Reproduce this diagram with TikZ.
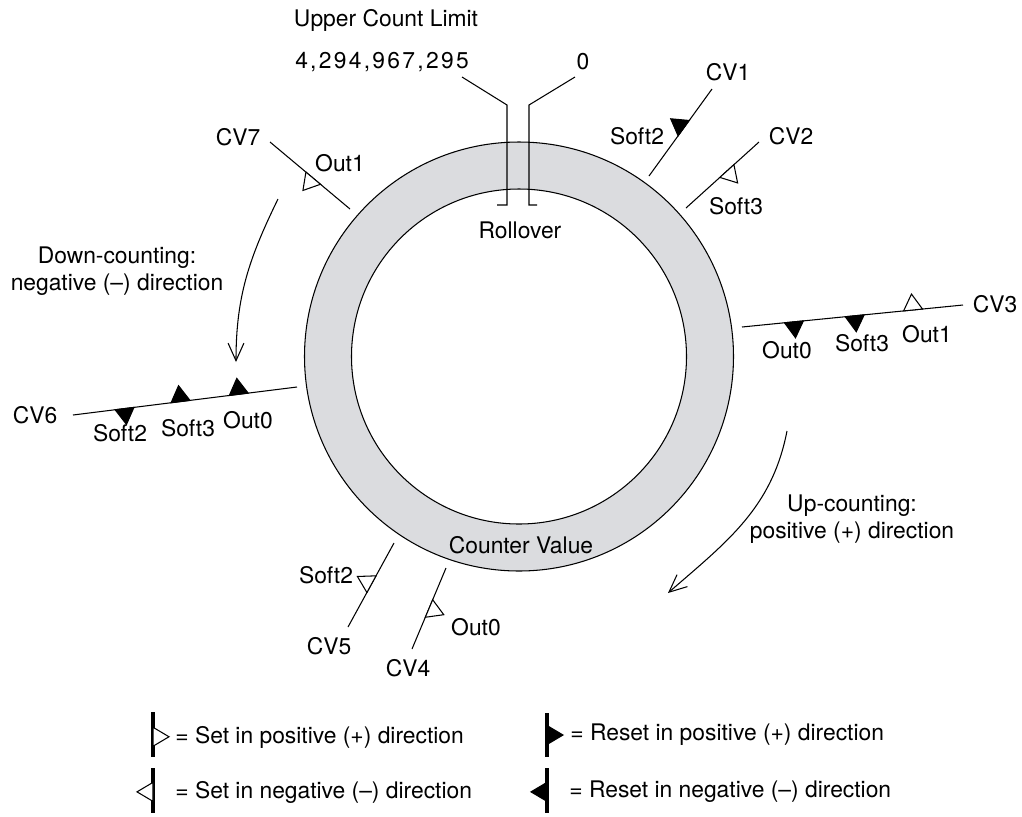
\documentclass[tikz,border=0pt]{standalone}
\usepackage{fontspec}
\setmainfont{TeX Gyre Heros}
\usetikzlibrary{positioning, calc, arrows.meta}
\definecolor{ringgray}{RGB}{219,220,223}

\tikzset{
    lbl/.style={font=\fontsize{13}{15}\selectfont, inner sep=0pt},
    thin line/.style={line width=0.6pt},
    legend bar/.style={line width=1.8pt},
    pics/tri/.style 2 args={code={\draw[line width=0.6pt, line join=miter, #2] (-0.19cm,0) -- (0,#1) -- (0.19cm,0) -- cycle;}},
    onpath/.style={pos=#1, sloped, allow upside down}
}

\begin{document}
\begin{tikzpicture}[x=0.02cm, y=-0.02cm]
    \useasboundingbox (0,0) rectangle (1022,816);

    % Ring of counter values
    \coordinate (c) at (519,356.5);
    \fill[ringgray, even odd rule] (c) circle[radius=214.5] (c) circle[radius=167.5];
    \draw[thin line] (c) circle[radius=214.5];
    \draw[thin line] (c) circle[radius=167.5];
    \node[lbl] (cval) at (521,545) {Counter Value};

    % Rollover point with its two limits
    \node[lbl] (ulim) at (386,20) {Upper Count Limit};
    \node[lbl] (maxv) at (382,62) {\addfontfeature{LetterSpace=10}4,294,967,295};
    \node[lbl] (zero) at (583,62) {0};
    \node[lbl] (roll) at (520,230) {Rollover};
    \coordinate (maxa) at (462,77);
    \coordinate (zeroa) at (575,77);
    \draw[thin line] (maxa) -- (507,105) -- (507,205) -- (497,205);
    \draw[thin line] (zeroa) -- (529,105) -- (529,205) -- (537,205);

    % CV1
    \coordinate (cv1a) at (649,176);
    \coordinate (cv1b) at (712,89);
    \node[lbl] (cv1) at (728,72) {CV1};
    \node[lbl] (cv1s2) at (637,136) {Soft2};
    \draw[thin line] (cv1a) -- (cv1b) pic[onpath=.55]{tri={0.32cm}{fill=black}};

    % CV2
    \coordinate (cv2a) at (686,208);
    \coordinate (cv2b) at (759,142);
    \node[lbl] (cv2) at (791,136) {CV2};
    \node[lbl] (cv2s3) at (736,206) {Soft3};
    \draw[thin line] (cv2a) -- (cv2b) pic[onpath=.56]{tri={-0.32cm}{fill=white}};

    % CV3
    \coordinate (cv3a) at (742,327);
    \coordinate (cv3b) at (963,305);
    \node[lbl] (cv3) at (995,304) {CV3};
    \node[lbl] (cv3o0) at (787,350) {Out0};
    \node[lbl] (cv3s3) at (862,343) {Soft3};
    \node[lbl] (cv3o1) at (927,334) {Out1};
    \draw[thin line] (cv3a) -- (cv3b)
        pic[onpath=.235]{tri={-0.32cm}{fill=black}}
        pic[onpath=.51]{tri={-0.32cm}{fill=black}}
        pic[onpath=.774]{tri={0.32cm}{fill=white}};

    % CV4
    \coordinate (cv4a) at (446,568);
    \coordinate (cv4b) at (412,649);
    \node[lbl] (cv4) at (408,668) {CV4};
    \node[lbl] (cv4o0) at (476,627) {Out0};
    \draw[thin line] (cv4a) -- (cv4b) pic[onpath=.5]{tri={0.32cm}{fill=white}};

    % CV5
    \coordinate (cv5a) at (394,543);
    \coordinate (cv5b) at (348,627);
    \node[lbl] (cv5) at (329,646) {CV5};
    \node[lbl] (cv5s2) at (326,575) {Soft2};
    \draw[thin line] (cv5a) -- (cv5b) pic[onpath=.49]{tri={-0.32cm}{fill=white}};

    % CV6
    \coordinate (cv6a) at (297,387);
    \coordinate (cv6b) at (73,415);
    \node[lbl] (cv6) at (35,415) {CV6};
    \node[lbl] (cv6s2) at (120,433) {Soft2};
    \node[lbl] (cv6s3) at (188,428) {Soft3};
    \node[lbl] (cv6o0) at (248,420) {Out0};
    \draw[thin line] (cv6a) -- (cv6b)
        pic[onpath=.26]{tri={-0.32cm}{fill=black}}
        pic[onpath=.52]{tri={-0.32cm}{fill=black}}
        pic[onpath=.77]{tri={0.32cm}{fill=black}};

    % CV7
    \coordinate (cv7a) at (350,209);
    \coordinate (cv7b) at (270,142);
    \node[lbl] (cv7) at (238,137) {CV7};
    \node[lbl] (cv7o1) at (340,163) {Out1};
    \draw[thin line] (cv7a) -- (cv7b) pic[onpath=.46]{tri={0.32cm}{fill=white}};

    % Counting directions
    \node[lbl, align=center] (down) at (117,271) {Down-counting:\\negative (--) direction};
    \coordinate (dna) at (278,199);
    \coordinate (dnb) at (236,362);
    \draw[thin line, -{Straight Barb[length=10pt, width=9pt]}] (dna) to[out=-116, in=90] (dnb);
    \node[lbl, align=center] (up) at (852,519) {Up-counting:\\positive (+) direction};
    \coordinate (upa) at (787,431);
    \coordinate (upb) at (668,593);
    \draw[thin line, -{Straight Barb[length=10pt, width=9pt]}] (upa) to[out=-101, in=41] (upb);

    % Legend
    \coordinate (lg1a) at (153,712);
    \coordinate (lg1b) at (153,757);
    \draw[legend bar] (lg1a) -- (lg1b) pic[onpath=.55]{tri={0.32cm}{fill=white}};
    \node[lbl, anchor=west] (lg1) at (175,737) {= Set in positive (+) direction};
    \coordinate (lg2a) at (153,768);
    \coordinate (lg2b) at (153,813);
    \draw[legend bar] (lg2a) -- (lg2b) pic[onpath=.53]{tri={-0.32cm}{fill=white}};
    \node[lbl, anchor=west] (lg2) at (175,792) {= Set in negative (--) direction};
    \coordinate (lg3a) at (547,713);
    \coordinate (lg3b) at (547,757);
    \draw[legend bar] (lg3a) -- (lg3b) pic[onpath=.5]{tri={0.32cm}{fill=black}};
    \node[lbl, anchor=west] (lg3) at (570,735) {= Reset in positive (+) direction};
    \coordinate (lg4a) at (547,768);
    \coordinate (lg4b) at (547,813);
    \draw[legend bar] (lg4a) -- (lg4b) pic[onpath=.53]{tri={-0.32cm}{fill=black}};
    \node[lbl, anchor=west] (lg4) at (569,792) {= Reset in negative (--) direction};
\end{tikzpicture}
\end{document}
